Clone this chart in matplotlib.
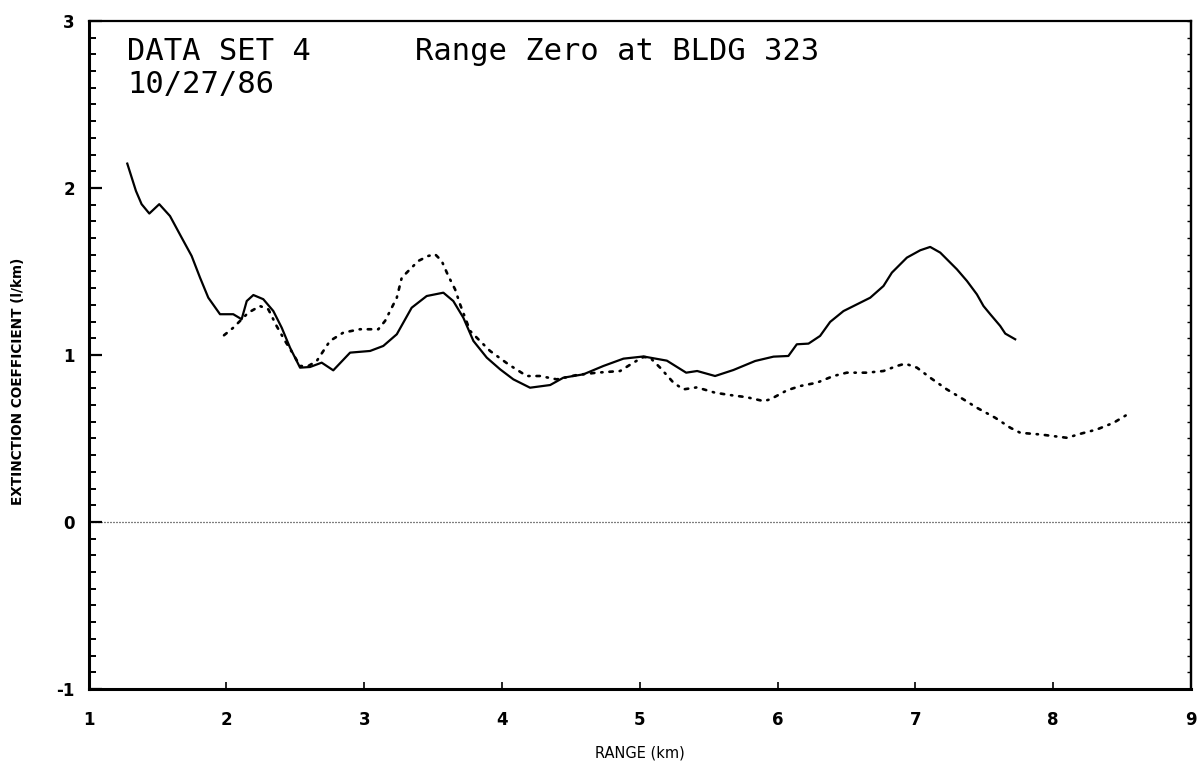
import numpy as np
import matplotlib.pyplot as plt
from matplotlib.ticker import MultipleLocator, FixedLocator

# Extinction coefficient vs range, solid trace
solid_range = [1.280, 1.343, 1.384, 1.440, 1.512, 1.590, 1.675, 1.747, 1.808, 1.868,
               1.953, 2.049, 2.110, 2.147, 2.195, 2.267, 2.340, 2.401, 2.461, 2.534,
               2.606, 2.691, 2.775, 2.897, 3.042, 3.138, 3.236, 3.344, 3.453, 3.574,
               3.646, 3.719, 3.792, 3.889, 3.986, 4.082, 4.203, 4.349, 4.445, 4.590,
               4.735, 4.881, 5.026, 5.196, 5.336, 5.416, 5.546, 5.679, 5.837, 5.970,
               6.078, 6.139, 6.224, 6.308, 6.381, 6.478, 6.672, 6.768, 6.829, 6.938,
               7.035, 7.107, 7.180, 7.301, 7.374, 7.446, 7.494, 7.543, 7.615, 7.652,
               7.724]
solid_ext = [2.146, 1.982, 1.903, 1.847, 1.903, 1.832, 1.702, 1.593, 1.463, 1.343,
             1.244, 1.244, 1.214, 1.323, 1.359, 1.334, 1.263, 1.163, 1.044, 0.924,
             0.928, 0.954, 0.908, 1.014, 1.024, 1.054, 1.124, 1.283, 1.353, 1.373,
             1.323, 1.223, 1.084, 0.984, 0.914, 0.854, 0.804, 0.820, 0.864, 0.884,
             0.934, 0.978, 0.991, 0.966, 0.894, 0.904, 0.874, 0.910, 0.964, 0.990,
             0.994, 1.064, 1.068, 1.114, 1.198, 1.263, 1.343, 1.413, 1.493, 1.583,
             1.627, 1.647, 1.613, 1.513, 1.443, 1.363, 1.293, 1.244, 1.174, 1.128,
             1.094]

# Second trace (dotted)
dot_range = [1.982, 2.049, 2.158, 2.243, 2.304, 2.364, 2.425, 2.485, 2.534, 2.594,
             2.655, 2.751, 2.848, 2.969, 3.102, 3.151, 3.236, 3.272, 3.344, 3.392,
             3.465, 3.514, 3.562, 3.610, 3.659, 3.695, 3.768, 3.840, 3.913, 4.046,
             4.179, 4.276, 4.397, 4.542, 4.687, 4.857, 4.953, 5.026, 5.074, 5.147,
             5.244, 5.316, 5.414, 5.546, 5.655, 5.776, 5.897, 5.946, 6.067, 6.163,
             6.285, 6.405, 6.502, 6.648, 6.768, 6.865, 6.926, 7.011, 7.107, 7.228,
             7.349, 7.446, 7.579, 7.689, 7.761, 7.906, 8.003, 8.100, 8.197, 8.317,
             8.438, 8.559]
dot_ext = [1.118, 1.163, 1.253, 1.293, 1.273, 1.173, 1.084, 1.004, 0.934, 0.934,
           0.964, 1.084, 1.134, 1.154, 1.154, 1.204, 1.343, 1.463, 1.523, 1.563,
           1.593, 1.603, 1.563, 1.473, 1.393, 1.304, 1.144, 1.084, 1.024, 0.944,
           0.874, 0.874, 0.854, 0.880, 0.894, 0.904, 0.954, 0.988, 0.984, 0.924,
           0.834, 0.794, 0.806, 0.774, 0.760, 0.747, 0.724, 0.734, 0.788, 0.814,
           0.834, 0.874, 0.894, 0.894, 0.904, 0.934, 0.948, 0.924, 0.864, 0.794,
           0.734, 0.684, 0.624, 0.564, 0.534, 0.524, 0.514, 0.504, 0.528, 0.554,
           0.594, 0.654]

x_ticks = [1, 2, 3, 4, 5, 6, 7, 8, 9]
y_ticks = [-1, 0, 1, 2, 3]

fig = plt.figure(figsize=(11.97, 7.77), dpi=100)
ax = fig.add_axes([0.0741, 0.1133, 0.9209, 0.8597])

ax.plot(solid_range, solid_ext, color='black', lw=1.6, solid_joinstyle='round')
ax.plot(dot_range, dot_ext, color='black', lw=1.9,
        linestyle=(0, (1.3, 2.6, 0.5, 2.6)), dash_capstyle='round')
ax.axhline(0, color='black', lw=0.9, linestyle=(0, (0.8, 1.6)))

ax.set_xlim(1, 9)
ax.set_ylim(-1, 3)

for side in ['left', 'bottom']:
    ax.spines[side].set_linewidth(2.2)
for side in ['top', 'right']:
    ax.spines[side].set_linewidth(1.6)

ax.xaxis.set_major_locator(FixedLocator(x_ticks))
ax.yaxis.set_major_locator(FixedLocator(y_ticks))
ax.yaxis.set_minor_locator(MultipleLocator(0.1))
ax.set_xticklabels([str(v) for v in x_ticks])
ax.set_yticklabels([str(v) for v in y_ticks])

ax.tick_params(axis='x', which='major', direction='in', length=5, width=1.2,
               pad=16, labelsize=12)
ax.tick_params(axis='y', which='major', direction='in', length=9, width=1.6,
               pad=10, labelsize=12)
ax.tick_params(axis='y', which='minor', direction='in', length=5, width=1.4)
for lbl in ax.get_xticklabels() + ax.get_yticklabels():
    lbl.set_fontweight('bold')

# faint ticks along the right edge
ax2 = ax.secondary_yaxis('right')
ax2.yaxis.set_major_locator(MultipleLocator(0.1))
ax2.tick_params(axis='y', which='major', direction='in', length=3, width=1.0,
                labelright=False)
ax2.spines['right'].set_linewidth(1.6)

ax.set_xlabel('RANGE (km)', fontsize=10.5, labelpad=12)
ax.set_ylabel('EXTINCTION COEFFICIENT (l/km)', fontsize=9.8, fontweight='bold')
ax.yaxis.set_label_coords(-0.058, 0.46)

# plotter-style header
hdr = dict(transform=ax.transAxes, family='DejaVu Sans Mono', fontsize=22,
           va='baseline', ha='left')
ax.text(0.0347, 0.9416, 'DATA SET 4', **hdr)
ax.text(0.296, 0.9416, 'Range Zero at BLDG 323', **hdr)
ax.text(0.0347, 0.8922, '10/27/86', **hdr)

fig.savefig('out.png', dpi=100)
